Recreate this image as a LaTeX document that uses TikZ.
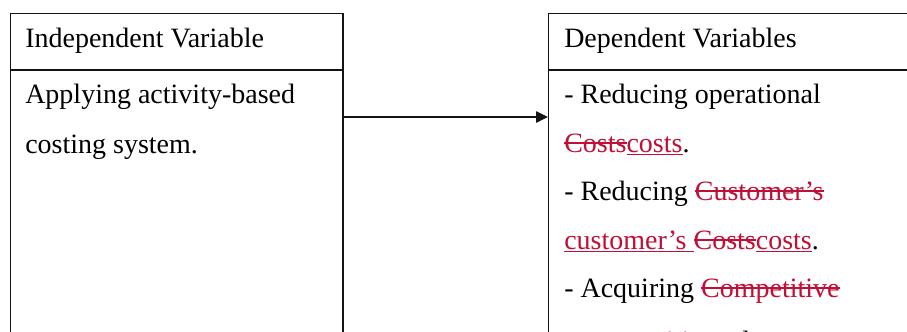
\documentclass[tikz,border=0pt]{standalone}
\usepackage{fontspec}
\setmainfont{Liberation Serif}
\usetikzlibrary{arrows.meta}
\definecolor{tc}{RGB}{192,16,56}
\definecolor{frame}{RGB}{20,20,20}
\newsavebox\tcmarkbox
\newcommand\tcdel[1]{\sbox\tcmarkbox{#1}\rlap{\rule[0.3em]{\wd\tcmarkbox}{0.045em}}\usebox\tcmarkbox}
\newcommand\tcins[1]{\sbox\tcmarkbox{#1}\rlap{\rule[-0.12em]{\wd\tcmarkbox}{0.045em}}\usebox\tcmarkbox}
\begin{document}
\begin{tikzpicture}[x=0.75pt,y=-0.75pt,
  txt/.style={anchor=base west, inner sep=0pt, font=\fontsize{21}{25}\selectfont},
  colbox/.style={draw=frame, line width=1.1pt, anchor=north west, inner sep=0pt, minimum height=300pt},
  rule/.style={draw=frame, line width=1.1pt},
  conn/.style={draw=frame, line width=1.1pt, -{Triangle[length=9pt,width=8.5pt]}}]
\useasboundingbox (0,0) rectangle (907,332);
\clip (0,0) rectangle (907,332);
\fill[white] (0,0) rectangle (907,332);
% boxes
\node[colbox, minimum width=249.4pt] (lbox) at (9.5,13) {};
\node[colbox, minimum width=300pt] (rbox) at (548,13) {};
\coordinate (hy) at (0,70);
\coordinate (ay) at (0,117);
\path[rule] (lbox.west |- hy) -- (lbox.east |- hy);
\path[rule] (rbox.west |- hy) -- (rbox.east |- hy);
% left texts
\node[txt] (lh) at (25,47) {Independent Variable};
\node[txt] (l1) at (25,103) {Applying activity-based};
\node[txt] (l2) at (25,153) {costing system.};
% right texts
\node[txt] (rh) at (564,47) {Dependent Variables};
\node[txt] (r1) at (564,103) {- Reducing operational};
\node[txt] (r2) at (564,152) {{\color{tc}\tcdel{Costs}\tcins{costs}}.};
\node[txt] (r3) at (564,200) {- Reducing {\color{tc}\tcdel{Customer’s}}};
\node[txt] (r4) at (564,249) {{\color{tc}\tcins{customer’s }\tcdel{Costs}\tcins{costs}}.};
\node[txt] (r5) at (564,297) {- Acquiring {\color{tc}\tcdel{Competitive}}};
\node[txt] (r6) at (564,350) {{\color{tc}\tcins{a competitive}} advantage.};
% connector
\path[conn] (lbox.east |- ay) -- (rbox.west |- ay);
\end{tikzpicture}
\end{document}
